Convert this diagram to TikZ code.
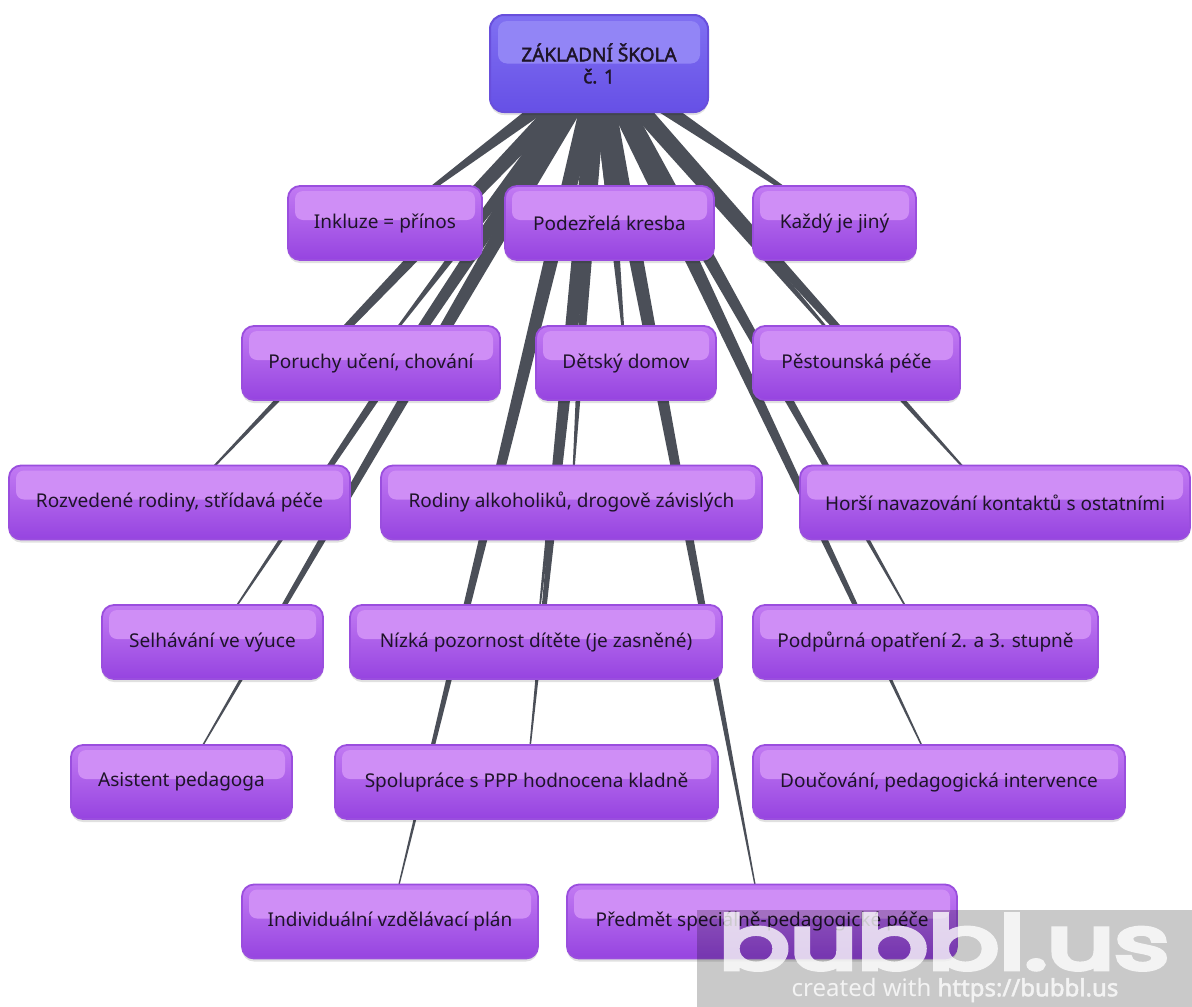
\documentclass[tikz,border=0pt]{standalone}
\usepackage{fontspec}
\setmainfont{Noto Sans}
\newfontfamily\boldsans{Noto Sans}[FakeBold=2]
\newfontfamily\wmfont{Poppins}[FakeBold=6]
\usetikzlibrary{calc,shadows}
\definecolor{linkc}{HTML}{4B4F58}
\definecolor{bubdraw}{HTML}{9A4EDE}
\definecolor{bubtop}{HTML}{C27AF3}
\definecolor{bubbot}{HTML}{9644E0}
\definecolor{bubhl}{HTML}{CF8EF6}
\definecolor{roottop}{HTML}{8070F2}
\definecolor{rootbot}{HTML}{6650E6}
\definecolor{roothl}{HTML}{9285F6}
\definecolor{rootdraw}{HTML}{684FDC}
\definecolor{txt}{HTML}{1E1428}
\pgfdeclarelayer{bg}
\pgfsetlayers{bg,main}
\newcommand\taper[2]{%
  \fill[linkc] let \p1=(#1.center), \p2=(#2.center), \n1={atan2(\y2-\y1,\x2-\x1)} in
  ($(\p1)+(\n1+90:9pt)$) -- ($(\p2)+(\n1+90:0.3pt)$) -- ($(\p2)+(\n1-90:0.3pt)$) -- ($(\p1)+(\n1-90:9pt)$) -- cycle;}
\tikzset{
  bub/.style={rounded corners=12pt, draw=bubdraw, line width=1.8pt,
    top color=bubtop, bottom color=bubbot, minimum height=74pt, inner sep=0pt,
    text=txt, font=\fontsize{19}{22}\selectfont,
    drop shadow={shadow xshift=0pt, shadow yshift=-3pt, opacity=0.12, fill=black},
    path picture={\fill[bubhl, rounded corners=8pt]
      ([xshift=7pt,yshift=-5pt]path picture bounding box.north west) rectangle
      ([xshift=-7pt,yshift=3pt]path picture bounding box.east);}},
  rootbox/.style={rounded corners=14pt, draw=rootdraw, line width=2pt,
    top color=roottop, bottom color=rootbot, minimum height=97pt, minimum width=218pt,
    inner sep=0pt, align=center, text=txt, font=\boldsans\fontsize{19}{22}\selectfont,
    drop shadow={shadow xshift=0pt, shadow yshift=-3pt, opacity=0.12, fill=black},
    path picture={\fill[roothl, rounded corners=9pt]
      ([xshift=8pt,yshift=-6pt]path picture bounding box.north west) rectangle
      ([xshift=-8pt,yshift=0pt]path picture bounding box.east);}},
  wmtext/.style={text=white, inner sep=0pt}
}
\begin{document}
\begin{tikzpicture}[x=1pt,y=-1pt]
\useasboundingbox (0,0) rectangle (1192,1007);
\node[rootbox] (root) at (599,63.5) {ZÁKLADNÍ ŠKOLA\\č. 1};
\node[bub, minimum width=194pt] (inkl) at (385,223) {Inkluze = přínos};
\node[bub, minimum width=209pt] (podez) at (609.5,223) {Podezřelá kresba};
\node[bub, minimum width=163pt] (kazdy) at (834.5,223) {Každý je jiný};
\node[bub, minimum width=258pt] (poruchy) at (371,363) {Poruchy učení, chování};
\node[bub, minimum width=180pt] (detsky) at (626,363) {Dětský domov};
\node[bub, minimum width=207pt] (pest) at (856.5,363) {Pěstounská péče};
\node[bub, minimum width=341pt] (rozv) at (179.5,502.5) {Rozvedené rodiny, střídavá péče};
\node[bub, minimum width=381pt] (rodiny) at (571.5,502.5) {Rodiny alkoholiků, drogově závislých};
\node[bub, minimum width=390pt] (horsi) at (995,502.5) {Horší navazování kontaktů s ostatními};
\node[bub, minimum width=221pt] (selh) at (212.5,642) {Selhávání ve výuce};
\node[bub, minimum width=372pt] (nizka) at (536,642) {Nízká pozornost dítěte (je zasněné)};
\node[bub, minimum width=345pt] (podp) at (925.5,642) {Podpůrná opatření 2. a 3. stupně};
\node[bub, minimum width=221pt] (asist) at (181.5,782) {Asistent pedagoga};
\node[bub, minimum width=383pt] (spol) at (526.5,782) {Spolupráce s PPP hodnocena kladně};
\node[bub, minimum width=372pt] (douc) at (939,782) {Doučování, pedagogická intervence};
\node[bub, minimum width=296pt] (indiv) at (390,921.5) {Individuální vzdělávací plán};
\node[bub, minimum width=390pt] (predm) at (762,921.5) {Předmět speciálně-pedagogické péče};
\begin{pgfonlayer}{bg}
\foreach \c in {inkl,podez,kazdy,poruchy,detsky,pest,rozv,rodiny,horsi,selh,nizka,podp,asist,spol,douc,indiv,predm}{\taper{root}{\c}}
\end{pgfonlayer}
% watermark
\fill[black, opacity=0.21] (697,910) rectangle (1192,1007);
\begin{scope}[transparency group, opacity=0.78]
\node[wmtext, font=\wmfont\fontsize{74}{74}\selectfont] (wm) at (944,942) {\scalebox{1.42}[1]{bubbl.us}};
\node[wmtext, font=\fontsize{24}{26}\selectfont] (wmsub) at (955,990) {created with {\boldsans https://bubbl.us}};
\end{scope}
\end{tikzpicture}
\end{document}
